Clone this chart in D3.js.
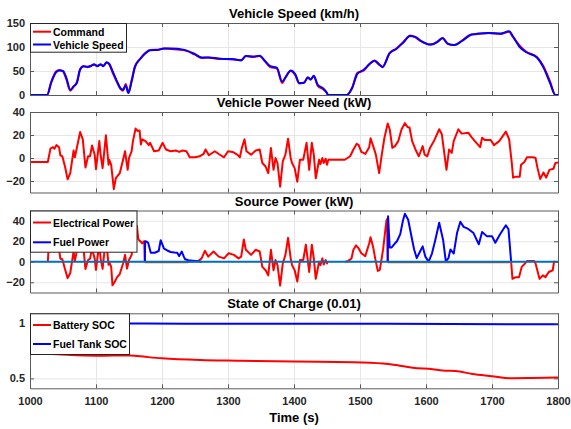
<!DOCTYPE html>
<html>
<head>
<meta charset="utf-8">
<script src="https://cdn.jsdelivr.net/npm/d3@7"></script>
<style>
  body { margin: 0; background: #fff; }
  text { font-family: "Liberation Sans", Arial, Helvetica, sans-serif; font-weight: bold; }
</style>
</head>
<body>
<svg id="chart" width="571" height="429"></svg>
<script>
// ---- data ----
const timeTicks = [1000, 1100, 1200, 1300, 1400, 1500, 1600, 1700, 1800];

const speedT = [1000,1026,1032,1040,1045,1050,1055,1061,1066,1071,1076,1081,1087,1092,1097,1102,1107,1111,1116,1120,
  1125,1132,1137,1141,1145,1149,1154,1159,1167,1175,1182,1195,1203,1213,1234,1250,1260,1270,1286,1296,
  1307,1320,1327,1338,1348,1356,1364,1374,1382,1387,1395,1402,1408,1415,1421,1425,1430,1436,1444,1449,
  1452,1480,1488,1496,1506,1514,1522,1529,1534,1545,1555,1566,1576,1584,1591,1607,1617,1625,1633,1643,
  1654,1669,1679,1695,1713,1726,1731,1742,1752,1768,1778,1788,1796,1800];
const speed = [0,0,25,48,51,50,36,11,18,25,53,60,59,60,64,60,64,60,68,65,
  50,28,14,11,20,4,28,58,75,87,93,94,97,97,94,85,78,78,76,75,
  75,72,81,80,82,71,60,57,28,36,51,43,25,25,37,32,40,21,14,6,
  0,0,14,44,53,64,72,64,58,87,96,110,123,121,114,105,110,119,107,104,
  112,126,128,129,128,133,124,100,89,78,57,25,0,0];
const command = [0,0,27,50,52,49,33,9,17,27,54,60,58,61,63,61,63,61,67,64,
  47,26,13,9,23,6,31,60,76,88,94,95,97,96,93,84,77,78,75,75,
  74,73,81,79,81,70,58,55,25,37,50,41,24,26,36,33,38,19,12,6,
  0,0,15,46,51,64,71,63,59,88,97,111,124,120,113,105,111,118,106,104,
  113,126,127,129,127,132,122,103,90,79,60,28,0,0];

const needT = [1000,1027,1031,1035,1037,1040,1044,1046,1049,1053,1057,1061,1066,1068,1072,1076,1080,1084,1088,1091,
  1094,1098,1100,1105,1107,1110,1115,1119,1120,1123,1127,1130,1136,1141,1144,1148,1150,1154,1156,1160,
  1163,1166,1168,1170,1175,1180,1182,1188,1195,1201,1206,1213,1221,1226,1231,1237,1242,1250,1257,1263,
  1266,1271,1280,1286,1294,1300,1307,1314,1318,1321,1325,1328,1335,1342,1348,1352,1357,1361,1365,1369,
  1372,1375,1379,1383,1387,1391,1395,1397,1401,1405,1409,1414,1419,1423,1427,1430,1433,1438,1440,1443,
  1445,1448,1450,1452,1477,1485,1490,1495,1498,1502,1508,1514,1516,1520,1524,1529,1533,1537,1542,1545,
  1549,1553,1558,1563,1568,1572,1575,1579,1584,1589,1593,1595,1598,1602,1606,1612,1620,1624,1628,1631,
  1635,1639,1642,1649,1654,1664,1669,1674,1682,1685,1689,1698,1703,1711,1721,1726,1730,1732,1736,1742,
  1744,1749,1753,1762,1766,1769,1773,1778,1782,1787,1793,1796,1800];
const need = [-3.5,-3.5,8.2,9.4,8,11.2,9.4,2.4,1.5,-7.4,-18.5,-13.2,6.5,0.6,11.8,22.6,16.2,-8.2,1.5,1.5,
  10.9,2.9,-9.7,14.7,2.9,-8.8,19.7,-5.9,-1.5,-5.9,-27.1,-17.6,-13.2,-1.5,5.9,-10.3,0,5.9,14.7,25.6,
  23.5,24,11.8,16.2,14.7,11.2,13.2,5.9,6.5,13.2,7.4,5.9,6.5,5.3,6.5,5.9,0.6,0.6,1.5,3.5,
  7.4,2.4,5.9,3.5,0.6,5.9,5.3,2.9,0.6,8.8,16.2,5.9,2.9,6.5,7.4,-4.4,-7.4,-13.2,8.8,-10.3,
  0,-4.4,-25,-2.9,2.9,16.8,0,-4.4,-8.8,-20.6,-1.5,-1.5,13.2,-10.3,13.2,2.9,-17.6,-1.5,-5.3,0,
  -4.4,-0.6,-5.9,-1.5,-1.5,1.5,7.4,12.4,11.2,5.3,3.5,9.4,17.1,10.3,2.9,-13.2,2.9,17.6,30,25,
  8.8,10.3,14.7,25,30.3,27,26.5,14.7,7.4,1.5,7.4,10.3,2.9,1.5,8.8,14.7,25,20.6,2.9,-10.3,
  7.4,4.4,14.7,25,21.2,22,18.2,14.7,9.4,17.6,15.6,15.6,11.2,14.7,22.9,16.2,-4.4,-17.1,-16.2,-16.2,
  -5.9,-3.5,0.6,0.6,0,-8.8,-18.2,-12.6,-17.1,-10.3,-9.4,-4.4,-3.8];

// null = gap in the trace
const elecT = [1027,1028,1031,1035,1037,1040,1044,1046,1049,1053,1057,1061,1066,1068,1072,1076,1080,1084,1088,1091,
  1094,1098,1100,1105,1107,1110,1115,1119,1120,1123,1125,1128,1132,1136,1141,1144,1147,1150,1154,1156,
  1160,1162,1164,1167,1170,1173,1174,
  1200,
  1239,1255,1260,1265,1270,1278,1286,1294,1301,1309,1316,1320,1324,1327,1335,1342,1348,1352,1357,1361,
  1365,1369,1372,1375,1379,1383,1387,1391,1395,1397,1401,1405,1409,1414,1418,1423,1427,1430,1433,1438,
  1440,1443,1445,1448,1450,1451,
  1460,
  1478,1482,1487,1490,1494,1498,1502,1508,1514,1516,1520,1523,1527,1530,1535,1540,1541,1542,
  1600,
  1729,1731,1736,1741,1745,1750,1753,1764,1766,1772,1777,1781,1786,1792,1794,1796];
const elec = [0,11,10,12,10,14,12,3,2.5,-7,-16,-11,10,0.7,14,28,20,-7,1.7,3,
  13,3,-8,18,3,-7,24,-3,0,-5,-23,-20,-15,-12,-1.7,6.7,-6.7,1.7,6.7,18,
  33,35,22,20,18,20,0,
  null,
  0,0.7,3.3,10.7,5,10,5,3.3,8.3,6.7,3.3,5,21.7,11.7,6.7,11.7,10,-5,-8.3,-13.3,
  11.7,-8.3,1.7,-3.3,-23.3,-1.7,6.7,23.3,3.3,-3.3,-8.3,-19.3,1.7,1.7,16.7,-10,16.7,3.3,-16.7,0,
  -3.3,3.3,-2.7,1.7,-1.7,0,
  null,
  0,0.8,3,11.7,16,13,8.3,5.5,18,24,14,3.3,-9,-8,12,40,41.7,0,
  null,
  0,-16.7,-15,-15,-5,-1.7,0.7,0.7,-1.7,-16.7,-13.3,-15,-10,-8.3,0,0];

const fuelT = [1174,1174.5,1177,1179,1183,1189,1195,1198,1203,1208,1213,1219,1223,1226,1230,1233,1235,1240,1250,1260,
  1300,
  1542,1542.5,1545,1548,1553,1556,1561,1565,1568,1573,1578,1582,1586,1591,1595,1599,1604,1609,1614,1620,
  1626,1630,1634,1637,1642,1647,1652,1657,1664,1672,1680,1685,1692,1700,1705,1712,1721,1725,1729];
const fuel = [0,20,19.5,18.5,8.8,8.8,10.5,21,12.8,11,9.5,9,8.8,5.5,10,5,2.5,1.5,0.7,0,
  null,
  0,44.5,14,14,18,20,27,40,46.8,41,24.6,12,3.5,10,15,5,0,8,21,38,
  21,0.3,3.5,12,8,28,39,34,32,28,17,29,25,25,18.5,26.5,35.6,31.7,0];

const auxT = [1174,1240,1241,1542,1729];
const aux = [-0.6,-0.6,null,-0.6,-0.6];
const baseT = [1000,1800];
const base = [0,0];

const batT = [1000,1030,1100,1152,1175,1200,1258,1318,1400,1490,1535,1560,1580,1610,1625,1645,1670,1700,1727,1760,1800];
const battery = [0.725,0.72,0.705,0.708,0.695,0.682,0.666,0.66,0.652,0.647,0.635,0.615,0.597,0.583,0.572,0.567,0.54,0.52,0.502,0.504,0.508];
const tankT = [1000,1174,1240,1542,1729,1800];
const tank = [0.998,0.998,0.996,0.996,0.99,0.99];

// ---- layout ----
const svg = d3.select('#chart');
const left = 30, right = 558;
const x = d3.scaleLinear().domain([1000, 1800]).range([left, right]);
const frameColor = '#5a5a5a';
const tickText = '#262626';

function panel(cfg) {
  const y = d3.scaleLinear().domain(cfg.domain).range([cfg.bottom, cfg.top]);
  const g = svg.append('g');
  const h = cfg.bottom - cfg.top;

  g.append('rect')
    .attr('x', left).attr('y', cfg.top)
    .attr('width', right - left).attr('height', h)
    .attr('fill', '#fff');

  // grid
  g.append('g')
    .attr('transform', 'translate(0,' + cfg.bottom + ')')
    .call(d3.axisBottom(x).tickValues(timeTicks).tickSize(-h).tickFormat(''))
    .call(s => s.select('.domain').remove())
    .selectAll('line').attr('stroke', '#e6e6e6');
  g.append('g')
    .attr('transform', 'translate(' + left + ',0)')
    .call(d3.axisLeft(y).tickValues(cfg.ticks).tickSize(-(right - left)).tickFormat(''))
    .call(s => s.select('.domain').remove())
    .selectAll('line').attr('stroke', '#e6e6e6');

  const id = 'clip' + cfg.key;
  svg.append('clipPath').attr('id', id)
    .append('rect').attr('x', left).attr('y', cfg.top)
    .attr('width', right - left).attr('height', h);
  const plot = g.append('g').attr('clip-path', 'url(#' + id + ')');

  svg.append('text')
    .attr('x', (left + right) / 2).attr('y', cfg.top - 5)
    .attr('text-anchor', 'middle')
    .attr('font-size', 13)
    .attr('fill', '#000')
    .text(cfg.title);

  return { y, g, plot, cfg };
}

function finish(p, showX) {
  const { y, g, cfg } = p;
  const yl = g.append('g')
    .attr('transform', 'translate(' + left + ',0)')
    .call(d3.axisLeft(y).tickValues(cfg.ticks).tickFormat(cfg.fmt || d3.format('d'))
      .tickSizeInner(-4).tickSizeOuter(0).tickPadding(5));
  const yr = g.append('g')
    .attr('transform', 'translate(' + right + ',0)')
    .call(d3.axisRight(y).tickValues(cfg.ticks).tickFormat('')
      .tickSizeInner(-4).tickSizeOuter(0));
  const xb = g.append('g')
    .attr('transform', 'translate(0,' + cfg.bottom + ')')
    .call(d3.axisBottom(x).tickValues(timeTicks).tickFormat(showX ? d3.format('d') : '')
      .tickSizeInner(-4).tickSizeOuter(0).tickPadding(9));
  const xt = g.append('g')
    .attr('transform', 'translate(0,' + cfg.top + ')')
    .call(d3.axisTop(x).tickValues(timeTicks).tickFormat('')
      .tickSizeInner(-4).tickSizeOuter(0));
  [yl, yr, xb, xt].forEach(a => {
    a.selectAll('path, line').attr('stroke', frameColor);
    a.selectAll('text')
      .attr('font-size', 11)
      .attr('font-family', '"Liberation Sans", Arial, sans-serif')
      .attr('font-weight', 'bold')
      .attr('fill', tickText);
  });
}

function trace(p, ts, vs, color, width, curve) {
  const line = d3.line()
    .defined(d => d[1] !== null)
    .x(d => x(d[0]))
    .y(d => p.y(d[1]))
    .curve(curve || d3.curveLinear);
  p.plot.append('path')
    .datum(d3.zip(ts, vs))
    .attr('fill', 'none')
    .attr('stroke', color)
    .attr('stroke-width', width)
    .attr('stroke-linejoin', 'round')
    .attr('d', line);
}

function legend(p, items, w, rows) {
  const top = p.cfg.top;
  const lg = svg.append('g');
  lg.append('rect')
    .attr('x', left + 0.5).attr('y', top + 0.5)
    .attr('width', w).attr('height', rows[2])
    .attr('fill', '#fff').attr('stroke', '#262626').attr('stroke-width', 1);
  items.forEach((it, i) => {
    const cy = top + rows[i];
    lg.append('line')
      .attr('x1', left + 3).attr('x2', left + 21)
      .attr('y1', cy).attr('y2', cy)
      .attr('stroke', it.color).attr('stroke-width', 2);
    lg.append('text')
      .attr('x', left + 23).attr('y', cy + 4)
      .attr('font-size', 10.5)
      .attr('fill', '#000')
      .text(it.label);
  });
}

// ---- panels ----
const p1 = panel({ key: 1, title: 'Vehicle Speed (km/h)', top: 23, bottom: 95, domain: [0, 150], ticks: [0, 50, 100, 150] });
trace(p1, speedT, command, '#ff0000', 2, d3.curveMonotoneX);
trace(p1, speedT, speed, '#0000ff', 2, d3.curveMonotoneX);
finish(p1, false);
legend(p1, [{ label: 'Command', color: '#ff0000' }, { label: 'Vehicle Speed', color: '#0000ff' }], 96, [8.7, 21.5, 28.7]);

const p2 = panel({ key: 2, title: 'Vehicle Power Need (kW)', top: 112, bottom: 192.5, domain: [-30, 40], ticks: [-20, 0, 20, 40] });
trace(p2, needT, need, '#ff0000', 2);
finish(p2, false);

const p3 = panel({ key: 3, title: 'Source Power (kW)', top: 210.5, bottom: 292.5, domain: [-30, 50], ticks: [-20, 0, 20, 40] });
trace(p3, elecT, elec, '#ff0000', 2);
trace(p3, fuelT, fuel, '#0000ff', 2);
trace(p3, auxT, aux, '#D95319', 2);
trace(p3, baseT, base, '#0072BD', 2);
finish(p3, false);
legend(p3, [{ label: 'Electrical Power', color: '#ff0000' }, { label: 'Fuel Power', color: '#0000ff' }], 106.5, [12, 31.8, 41.2]);

const p4 = panel({ key: 4, title: 'State of Charge (0.01)', top: 313.3, bottom: 388.3, domain: [0.41, 1.09], ticks: [0.5, 1], fmt: d3.format('') });
trace(p4, batT, battery, '#ff0000', 2, d3.curveMonotoneX);
trace(p4, tankT, tank, '#0000ff', 2);
finish(p4, true);
legend(p4, [{ label: 'Battery SOC', color: '#ff0000' }, { label: 'Fuel Tank SOC', color: '#0000ff' }], 99, [11.7, 30.7, 40.7]);

svg.append('text')
  .attr('x', (left + right) / 2).attr('y', 422)
  .attr('text-anchor', 'middle')
  .attr('font-size', 13)
  .attr('fill', '#000')
  .text('Time (s)');
</script>
</body>
</html>
